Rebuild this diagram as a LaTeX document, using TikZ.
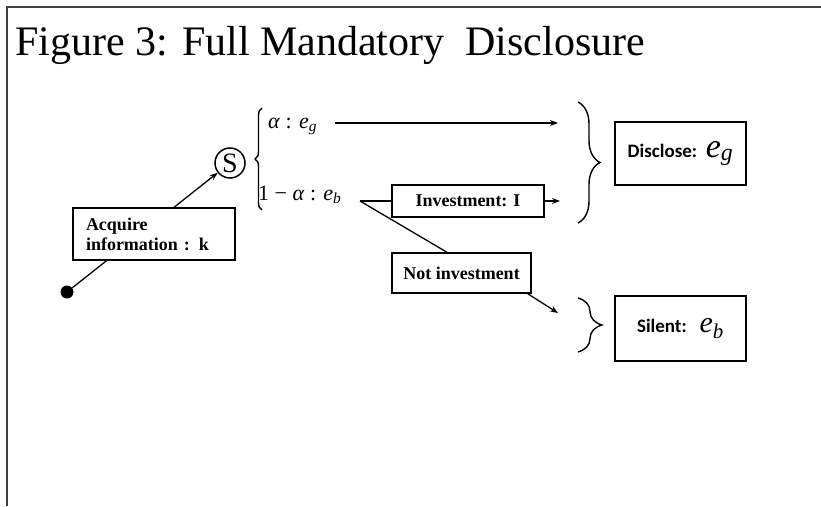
\documentclass[tikz,border=0pt]{standalone}
\usepackage{fontspec}
\setmainfont{Liberation Serif}
\newfontfamily\labelfont{Carlito}
\usetikzlibrary{arrows.meta, positioning, calc, backgrounds, decorations.pathreplacing}
\newcommand{\var}[2]{\textit{#1}\textsubscript{\textit{#2}}}
\tikzset{
  box/.style={rectangle, draw, line width=1.4pt, fill=white, inner sep=2pt, font=\fontsize{18}{20}\selectfont\bfseries},
  endbox/.style={rectangle, draw, line width=1.5pt, minimum width=131pt, font=\labelfont\fontsize{19}{21}\selectfont\bfseries},
  arrow/.style={-{Stealth[length=8pt, width=6pt]}, line width=1.3pt},
  curly/.style={decorate, decoration={brace, amplitude=#1}, line width=1.4pt},
  curly/.default=10,
  mathlabel/.style={anchor=base west, inner sep=0pt, font=\fontsize{22}{24}\selectfont},
}

\begin{document}
\begin{tikzpicture}[x=1pt, y=-1pt]
  \useasboundingbox (0,0) rectangle (821,506);

  % Frame and title
  \draw[line width=2pt, black!75] (7,506) -- (7,7) -- (821,7);
  \node[anchor=base west, inner sep=0pt, font=\fontsize{42}{46}\selectfont] (title) at (15,55) {Figure 3: Full Mandatory\ \ Disclosure};

  % Root and signal
  \node[circle, fill=black, minimum size=13pt, inner sep=0pt] (root) at (67,292) {};
  \node[circle, draw, line width=1.5pt, minimum size=30pt, inner sep=0pt, font=\fontsize{28}{28}\selectfont] (sig) at (230,163) {S};
  \node[box, align=left, minimum width=162pt, minimum height=52pt, text width=136pt] (acq) at (154,234) {Acquire\\ information : k};
  \begin{scope}[on background layer]
    \draw[arrow] (root) -- (sig);
  \end{scope}

  % Signal branches
  \draw[curly=7] (262,210) -- (262,108);
  \node[mathlabel] (good) at (268,128) {\textit{α} : \var{e}{g}};
  \node[mathlabel] (bad) at (258,200) {1 − \textit{α} : \var{e}{b}};

  \coordinate (goodstart) at (335,123);
  \coordinate (goodend) at (558,123);
  \draw[arrow] (goodstart) -- (goodend);

  % Investment choice
  \coordinate (fork) at (360,201);
  \node[box, minimum width=152pt, minimum height=32pt] (inv) at (468,201) {Investment: I};
  \node[box, minimum width=139pt, minimum height=40pt] (noinv) at (461.5,273) {Not investment};
  \coordinate (invend) at (560,201);
  \coordinate (noinvend) at (558,313);

  \draw[line width=1.3pt] (fork) -- (inv);
  \draw[arrow] (inv) -- (invend);
  \draw[line width=1.3pt] (fork) -- ([xshift=-14.5pt]noinv.north);
  \draw[arrow] ([xshift=-4pt]noinv.south east) -- (noinvend);

  % Outcomes
  \draw[curly=22] (578,102) -- (578,223);
  \draw[curly=24] (578,298) -- (578,352);
  \node[endbox, minimum height=63pt] (disc) at (680.5,153.5) {Disclose:\ \ {\rmfamily\mdseries\fontsize{34}{34}\selectfont\var{e}{g}}};
  \node[endbox, minimum height=65pt] (sil) at (680.5,328.5) {Silent:\ \ \ {\rmfamily\mdseries\fontsize{30}{30}\selectfont\var{e}{b}}};
\end{tikzpicture}
\end{document}
